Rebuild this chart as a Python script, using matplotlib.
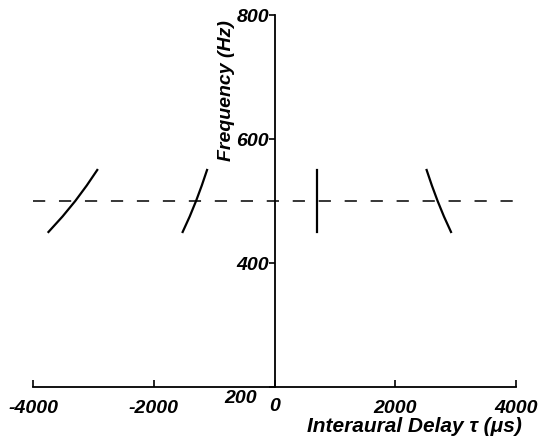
import matplotlib
matplotlib.use("Agg")
import matplotlib.pyplot as plt
import matplotlib.transforms as mtransforms

# frequency samples (Hz) along each curve
freq = [450, 475, 500, 525, 550]

# interaural delay (us) of each curve
curve_a = [-3744, -3511, -3300, -3110, -2936]
curve_b = [-1522, -1405, -1300, -1205, -1118]
curve_c = [700, 700, 700, 700, 700]
curve_d = [2922, 2805, 2700, 2605, 2518]

ref_freq = 500
x_ticks = [-4000, -2000, 0, 2000, 4000]
y_ticks = [200, 400, 600, 800]

plt.rcParams["font.family"] = ["Liberation Sans", "DejaVu Sans"]
plt.rcParams["font.weight"] = "bold"
plt.rcParams["font.style"] = "italic"

fig = plt.figure(figsize=(5.41, 4.39), dpi=100)
ax = fig.add_axes([0.061, 0.1162, 0.893, 0.8474])

ax.plot([-4000, 4000], [ref_freq, ref_freq], color="black", lw=1.1,
        dashes=(8, 9))
for c in (curve_a, curve_b, curve_c, curve_d):
    ax.plot(c, freq, color="black", lw=1.6)

ax.set_xlim(-4000, 4000)
ax.set_ylim(200, 800)
ax.spines["left"].set_position(("data", 0))
ax.spines["top"].set_visible(False)
ax.spines["right"].set_visible(False)
ax.spines["left"].set_linewidth(1.3)
ax.spines["bottom"].set_linewidth(1.3)

ax.set_xticks(x_ticks)
ax.set_xticklabels([str(t) for t in x_ticks])
ax.set_yticks(y_ticks)
ax.set_yticklabels([str(t) for t in y_ticks])
ax.tick_params(axis="x", direction="in", length=5, width=1.2, pad=9,
               labelsize=14)
ax.tick_params(axis="y", direction="out", length=4, width=1.2, pad=0,
               labelsize=14)

# the "0" and "200" labels sit off their usual spots in the original
for lab in ax.get_xticklabels():
    if lab.get_text() == "0":
        lab.set_transform(lab.get_transform() +
                          mtransforms.ScaledTranslation(0, 2 / 100, fig.dpi_scale_trans))
for lab in ax.get_yticklabels():
    if lab.get_text() == "200":
        lab.set_transform(lab.get_transform() +
                          mtransforms.ScaledTranslation(-12 / 100, -9 / 100, fig.dpi_scale_trans))

fig.text(235 / 541, 1 - 91 / 439, "Frequency (Hz)", rotation=90,
         ha="right", va="center", fontsize=14)
fig.text(522 / 541, 1 - 432 / 439, "Interaural Delay \u03c4 (\u03bcs)",
         ha="right", va="baseline", fontsize=15)

fig.savefig("out.png", dpi=100)
